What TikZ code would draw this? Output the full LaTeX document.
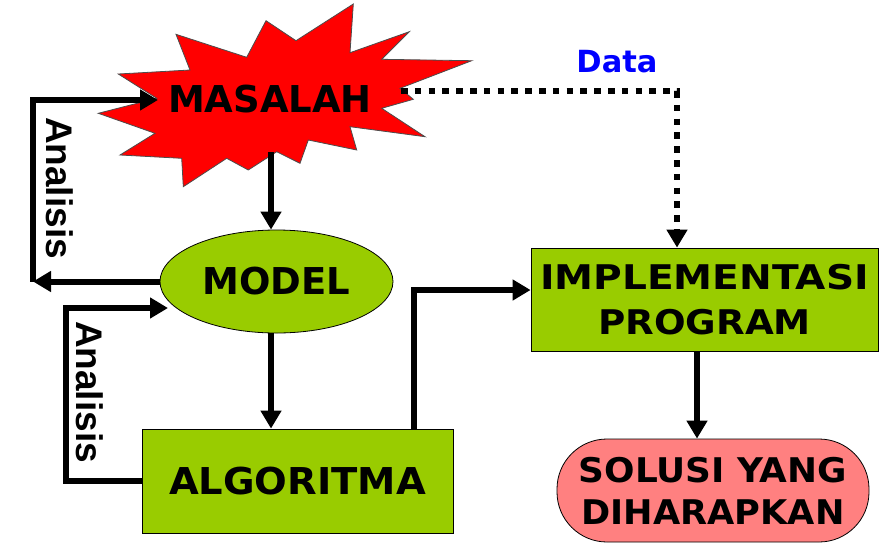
\documentclass[tikz,border=0pt]{standalone}
\usepackage{fontspec}
\usepackage{graphicx}
\newfontfamily\vfont{DejaVu Sans}
\newfontfamily\afont{Liberation Sans}
\usetikzlibrary{shapes.geometric,arrows.meta}
\definecolor{olive}{HTML}{99CC00}
\definecolor{pinkish}{HTML}{FF8080}
\definecolor{datablue}{HTML}{0000FF}
\newcommand\sxw[2]{\scalebox{#1}[1]{#2}}
\tikzset{
  arr/.style={line width=6pt,line join=miter,-{Triangle[length=18pt,width=20pt]}},
  dotarr/.style={line width=6.5pt,dash pattern=on 6.5pt off 7.3pt,-{Triangle[length=18pt,width=20pt]}},
  boxtxt/.style={font=\vfont\bfseries\fontsize{37}{45}\selectfont,align=center,inner sep=0pt},
  greenbox/.style={boxtxt,draw=black,line width=0.8pt,fill=olive,rectangle},
  lbl/.style={font=\afont\bfseries\fontsize{37}{40}\selectfont,rotate=-90,inner sep=0pt}
}
\begin{document}
\begin{tikzpicture}[x=1pt,y=-1pt]
\useasboundingbox (0,0) rectangle (890,552);
% starburst
\draw[fill=red,draw=black!70,line width=0.8pt]
 (98.3,113.3) -- (155,133.3) -- (120,155) -- (181.7,158.3) -- (183.3,186.7)
 -- (226.7,158.3) -- (248.3,170) -- (276.7,151.7) -- (300,163.3) -- (308.3,140)
 -- (356.7,150) -- (350,126.7) -- (425,136.7) -- (381.7,108.3) -- (413.3,99.3)
 -- (400,88.3) -- (471.7,60.7) -- (381.7,59.3) -- (409.3,31.7) -- (350,52.7)
 -- (353.3,4) -- (296,40.7) -- (266,20.7) -- (246.7,57.3) -- (176,34.3)
 -- (190,70) -- (118.3,74) -- (156.7,98.3) -- cycle;
\node[boxtxt] (masalah) at (270,99) {MASALAH};
% nodes
\node[ellipse,draw=black,line width=0.8pt,fill=olive,minimum width=233pt,minimum height=103pt,boxtxt] (model) at (276.5,281.5) {MODEL};
\node[greenbox,minimum width=311pt,minimum height=104pt] (algo) at (297.5,481) {\sxw{1.04}{ALGORITMA}};
\node[greenbox,minimum width=347pt,minimum height=103pt,font=\vfont\bfseries\fontsize{34}{45}\selectfont] (impl) at (704.5,299.5) {\sxw{1.15}{IMPLEMENTASI}\\\sxw{1.095}{PROGRAM}};
\node[boxtxt,draw=black,line width=0.8pt,fill=pinkish,rectangle,rounded corners=50pt,minimum width=312pt,minimum height=103pt,font=\vfont\bfseries\fontsize{34}{42}\selectfont] (sol) at (713,490.5) {\sxw{1.055}{SOLUSI YANG}\\\sxw{1.035}{DIHARAPKAN}};
\node[font=\vfont\bfseries\fontsize{30.5}{36}\selectfont,text=datablue,inner sep=0pt] (data) at (617,62) {Data};
\node[lbl] (an1) at (60,188) {Analisis};
\node[lbl] (an2) at (90,392) {Analisis};
% coordinates
\coordinate (mb) at (271,152);
\coordinate (ml) at (158,100);
\coordinate (l1) at (33,283);
\coordinate (l2) at (66,308);
\coordinate (mt) at (168,308);
\coordinate (ai) at (414,290);
\coordinate (ds) at (401,91);
\coordinate (dc) at (677,91);
\coordinate (is) at (697,351);
% connectors
\draw[arr] (mb) -- (mb |- model.north);
\draw[arr] (model.south -| mb) -- (algo.north -| mb);
\draw[arr] (model.west) -- (model.west -| l1);
\draw[arr] (model.west -| l1) |- (ml);
\draw[arr] (algo.west) -| (l2) -- (mt);
\draw[arr] (ai |- algo.north) -- (ai) -- (ai -| impl.west);
\draw[dotarr] (ds) -- (dc) -- (dc |- impl.north);
\draw[arr] (impl.south -| is) -- (sol.north -| is);
\end{tikzpicture}
\end{document}
